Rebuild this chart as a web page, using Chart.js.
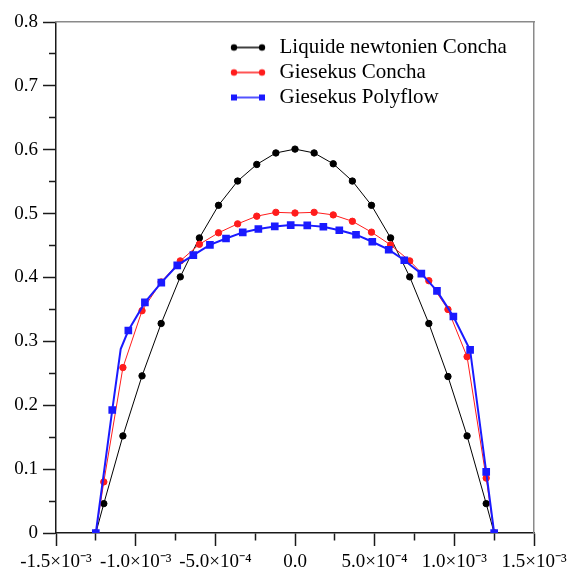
<!DOCTYPE html>
<html>
<head>
<meta charset="utf-8">
<script src="https://cdn.jsdelivr.net/npm/chart.js@4/dist/chart.umd.min.js"></script>
<style>
  html, body { margin: 0; padding: 0; background: #fff; }
</style>
</head>
<body>
<canvas id="profileChart" width="569" height="576"></canvas>
<script>
// positions across the channel (m)
const xConcha = [-1.25e-3, -1.2e-3, -1.08e-3, -0.96e-3, -0.84e-3, -0.72e-3, -0.6e-3, -0.48e-3, -0.36e-3, -0.24e-3, -0.12e-3, 0,
  0.12e-3, 0.24e-3, 0.36e-3, 0.48e-3, 0.6e-3, 0.72e-3, 0.84e-3, 0.96e-3, 1.08e-3, 1.2e-3, 1.25e-3];
const yNewtonien = [0, 0.046, 0.152, 0.246, 0.328, 0.401, 0.462, 0.513, 0.551, 0.577, 0.595, 0.601,
  0.595, 0.578, 0.551, 0.513, 0.462, 0.401, 0.328, 0.245, 0.152, 0.046, 0];
const yGiesekusConcha = [0, 0.080, 0.259, 0.348, 0.393, 0.426, 0.452, 0.470, 0.484, 0.496, 0.502, 0.501,
  0.502, 0.498, 0.488, 0.471, 0.451, 0.426, 0.395, 0.350, 0.276, 0.086, 0];

const xPolyflow = [-1.25e-3, -1.147e-3, -1.094e-3, -1.046e-3, -0.942e-3, -0.839e-3, -0.739e-3, -0.638e-3, -0.534e-3,
  -0.433e-3, -0.328e-3, -0.23e-3, -0.127e-3, -0.027e-3, 0.077e-3, 0.178e-3, 0.278e-3, 0.383e-3, 0.485e-3,
  0.588e-3, 0.686e-3, 0.793e-3, 0.891e-3, 0.994e-3, 1.099e-3, 1.2e-3, 1.25e-3];
const yGiesekusPolyflow = [0, 0.1925, 0.288, 0.317, 0.361, 0.392, 0.419, 0.435, 0.451,
  0.461, 0.4706, 0.476, 0.480, 0.482, 0.4816, 0.4795, 0.474, 0.467, 0.456,
  0.4435, 0.427, 0.406, 0.379, 0.339, 0.2866, 0.0957, 0];

const seriesNames = ['Liquide newtonien Concha', 'Giesekus Concha', 'Giesekus Polyflow'];
const xTickLabels = ['-1.5×10⁻³', '-1.0×10⁻³', '-5.0×10⁻⁴', '0.0', '5.0×10⁻⁴', '1.0×10⁻³', '1.5×10⁻³'];

const toPoints = (xs, ys) => xs.map((x, i) => ({ x: x, y: ys[i] }));

// Origin-like legend symbol: line with a marker at each end
function legendIcon(color, square) {
  const c = document.createElement('canvas');
  c.width = 40; c.height = 10;
  const g = c.getContext('2d');
  g.strokeStyle = color;
  g.fillStyle = color;
  g.lineWidth = 1.5;
  g.beginPath(); g.moveTo(5, 5); g.lineTo(33, 5); g.stroke();
  [5, 33].forEach(cx => {
    if (square) { g.fillRect(cx - 3, 2, 6, 6); }
    else { g.beginPath(); g.arc(cx, 5, 3.2, 0, Math.PI * 2); g.fill(); }
  });
  return c;
}
const legendIcons = [legendIcon('#000', false), legendIcon('#ff1c1c', false), legendIcon('#1a1aff', true)];

const serif = 'Liberation Serif';
const axisColor = '#1a1a1a';

const placeLegend = {
  id: 'placeLegend',
  afterLayout(chart) {
    const lg = chart.legend;
    lg.left = 225;
    lg.top = 33;
    lg.right = chart.chartArea.right;
    lg.bottom = chart.chartArea.bottom;
  }
};

new Chart(document.getElementById('profileChart'), {
  type: 'scatter',
  data: {
    datasets: [{
      label: seriesNames[0],
      data: toPoints(xConcha, yNewtonien),
      showLine: true,
      borderColor: '#000',
      backgroundColor: '#000',
      borderWidth: 1,
      pointRadius: 3.2,
      pointStyle: 'circle',
      order: 2
    }, {
      label: seriesNames[1],
      data: toPoints(xConcha, yGiesekusConcha),
      showLine: true,
      borderColor: '#ff1c1c',
      backgroundColor: '#ff1c1c',
      borderWidth: 1,
      pointRadius: 3.2,
      pointStyle: 'circle',
      order: 1
    }, {
      label: seriesNames[2],
      data: toPoints(xPolyflow, yGiesekusPolyflow),
      showLine: true,
      borderColor: '#1a1aff',
      backgroundColor: '#1a1aff',
      borderWidth: 2,
      // the kink near the left wall carries no marker in the original
      pointRadius: c => (c.dataIndex === 2 ? 0 : 4),
      pointStyle: 'rect',
      order: 0
    }]
  },
  options: {
    responsive: false,
    animation: false,
    layout: { autoPadding: false, padding: { top: 22, right: 35, left: 0, bottom: 0 } },
    plugins: {
      tooltip: { enabled: false },
      legend: {
        position: 'chartArea',
        align: 'start',
        labels: {
          usePointStyle: true,
          pointStyleWidth: 40,
          padding: 4,
          color: '#000',
          font: { family: serif, size: 21 },
          sort: (a, b) => a.datasetIndex - b.datasetIndex,
          generateLabels(chart) {
            const items = Chart.defaults.plugins.legend.labels.generateLabels(chart);
            items.forEach(it => { it.pointStyle = legendIcons[it.datasetIndex]; });
            return items;
          }
        }
      }
    },
    scales: {
      x: {
        type: 'linear',
        position: 'bottom',
        min: -1.5e-3,
        max: 1.5e-3,
        afterFit: s => { s.height = 43; s.paddingLeft = 0; s.paddingRight = 0; },
        border: { color: axisColor, width: 1.5 },
        grid: {
          drawOnChartArea: false,
          tickLength: 13,
          tickWidth: 1.5,
          tickColor: axisColor,
          tickBorderDash: c => (Math.round(c.tick.value / 2.5e-4) % 2 === 0 ? [] : [7, 100])
        },
        ticks: {
          stepSize: 2.5e-4,
          autoSkip: false,
          maxRotation: 0,
          padding: 5,
          color: '#000',
          font: { family: serif, size: 19 },
          callback: v => {
            const k = Math.round(v / 2.5e-4);
            return k % 2 === 0 ? xTickLabels[k / 2 + 3] : '';
          }
        }
      },
      y: {
        type: 'linear',
        position: 'left',
        min: 0,
        max: 0.8,
        afterFit: s => { s.width = 56; s.paddingTop = 0; s.paddingBottom = 0; },
        border: { color: axisColor, width: 1.5 },
        grid: {
          drawOnChartArea: false,
          tickLength: 13,
          tickWidth: 1.5,
          tickColor: axisColor,
          tickBorderDash: c => (Math.round(c.tick.value / 0.05) % 2 === 0 ? [] : [0, 6, 7, 100])
        },
        ticks: {
          stepSize: 0.05,
          autoSkip: false,
          padding: 5,
          color: '#000',
          font: { family: serif, size: 19 },
          callback: v => {
            const k = Math.round(v / 0.05);
            return k % 2 === 0 ? (k === 0 ? '0' : (k * 0.05).toFixed(1)) : '';
          }
        }
      },
      xTop: {
        type: 'linear',
        axis: 'x',
        position: 'top',
        afterFit: s => { s.height = 0; },
        grid: { display: false, drawTicks: false },
        ticks: { display: false },
        border: { color: '#8a8a8a', width: 1.5 }
      },
      yRight: {
        type: 'linear',
        axis: 'y',
        position: 'right',
        afterFit: s => { s.width = 0; },
        grid: { display: false, drawTicks: false },
        ticks: { display: false },
        border: { color: '#8a8a8a', width: 1.5 }
      }
    }
  },
  plugins: [placeLegend]
});
</script>
</body>
</html>
